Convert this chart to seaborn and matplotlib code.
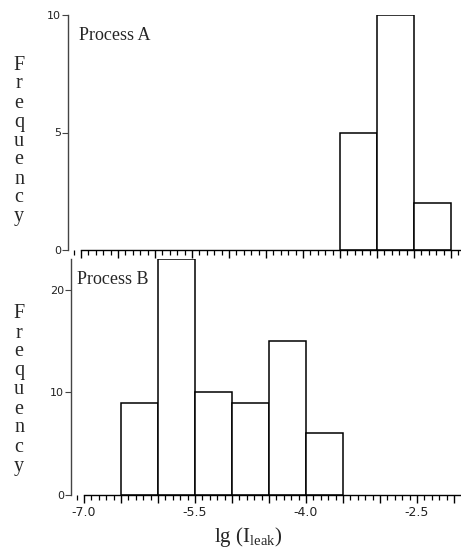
import numpy as np
import matplotlib
matplotlib.use("Agg")
import matplotlib.pyplot as plt
import matplotlib.ticker as mticker
import seaborn as sns

# histogram data
edges_a = [-3.5, -3.0, -2.5, -2.0]
counts_a = [5, 10, 2]
edges_b = [-6.5, -6.0, -5.5, -5.0, -4.5, -4.0, -3.5]
counts_b = [9, 23, 10, 9, 15, 6]
panel_titles = ["Process A", "Process B"]
xtick_labels = ["-7.0", "-5.5", "-4.0", "-2.5"]

sns.set_theme(style="white")
plt.rcParams["mathtext.fontset"] = "custom"
plt.rcParams["mathtext.rm"] = "Liberation Serif"
plt.rcParams["mathtext.it"] = "Liberation Serif"

W, H = 461, 550
fig = plt.figure(figsize=(W / 100, H / 100), dpi=100)


def px_axes(left, bottom_px, right, top_px):
    return fig.add_axes([left / W, (H - bottom_px) / H, (right - left) / W, (bottom_px - top_px) / H])


def style_axes(ax, edges, counts, ylim, yticks, xlim, show_labels):
    centers = [(edges[i] + edges[i + 1]) / 2 for i in range(len(counts))]
    sns.histplot(x=centers, weights=counts, bins=edges, ax=ax, color="white",
                 edgecolor="black", linewidth=1.1, alpha=1)
    ax.set_xlim(*xlim)
    ax.set_ylim(*ylim)
    for s in ["top", "right"]:
        ax.spines[s].set_visible(False)
    ax.spines["left"].set_color("#444444")
    ax.spines["left"].set_linewidth(1.0)
    ax.spines["bottom"].set_color("black")
    ax.spines["bottom"].set_linewidth(1.0)
    ax.spines["bottom"].set_bounds(-7.0, xlim[1])
    ax.set_yticks(yticks)
    ax.set_yticklabels([str(t) for t in yticks])
    ax.xaxis.set_minor_locator(mticker.MultipleLocator(0.1))
    maj = np.arange(-7.0, xlim[1], 0.5)
    ax.set_xticks(maj)
    labels = []
    for v in maj:
        k = round((v + 7.0) / 0.5)
        labels.append(xtick_labels[k // 3] if (show_labels and k % 3 == 0 and k // 3 < len(xtick_labels)) else "")
    ax.set_xticklabels(labels)
    ax.tick_params(axis="x", which="major", direction="out", length=6, width=1.0,
                   color="black", labelsize=9, pad=2, bottom=True)
    ax.tick_params(axis="x", which="minor", direction="out", length=3.5, width=0.9,
                   color="black", bottom=True)
    ax.tick_params(axis="y", which="major", direction="out", length=4, width=0.8,
                   color="#444444", labelsize=8, pad=1, left=True)
    for lab in ax.get_xticklabels() + ax.get_yticklabels():
        lab.set_family("DejaVu Sans")
        lab.set_color("#222222")
    ax.set_xlabel("")
    ax.set_ylabel("")
    ax.grid(False)
    ax.patch.set_alpha(0)


# top panel: y axis line at x=68, values 0..10 between y=250 and y=15
ax_a = px_axes(68, 250, 461, 15)
style_axes(ax_a, edges_a, counts_a, (0, 10), [0, 5, 10],
           (-7.176, -7.176 + 393 / 74), False)

# bottom panel: y axis line at x=71, values 0..23 between y=495 and y=259
ax_b = px_axes(71, 495, 461, 259)
style_axes(ax_b, edges_b, counts_b, (0, 23), [0, 10, 20],
           (-7.176, -7.176 + 390 / 74), True)

fig.text(79 / W, 1 - 35 / H, panel_titles[0], family="Liberation Serif", fontsize=13,
         ha="left", va="center")
fig.text(77 / W, 1 - 279 / H, panel_titles[1], family="Liberation Serif", fontsize=13,
         ha="left", va="center")

freq = "\n".join("Frequency")
for yc in [141, 390]:
    fig.text(19 / W, 1 - yc / H, freq, family="Liberation Serif", fontsize=14.5,
             ha="center", va="center", linespacing=1.0)

fig.text(248 / W, 1 - 537 / H, r"lg (I$_{\mathrm{leak}}$)", family="Liberation Serif",
         fontsize=15, ha="center", va="center")

fig.savefig("out.png", dpi=100, facecolor="white")
